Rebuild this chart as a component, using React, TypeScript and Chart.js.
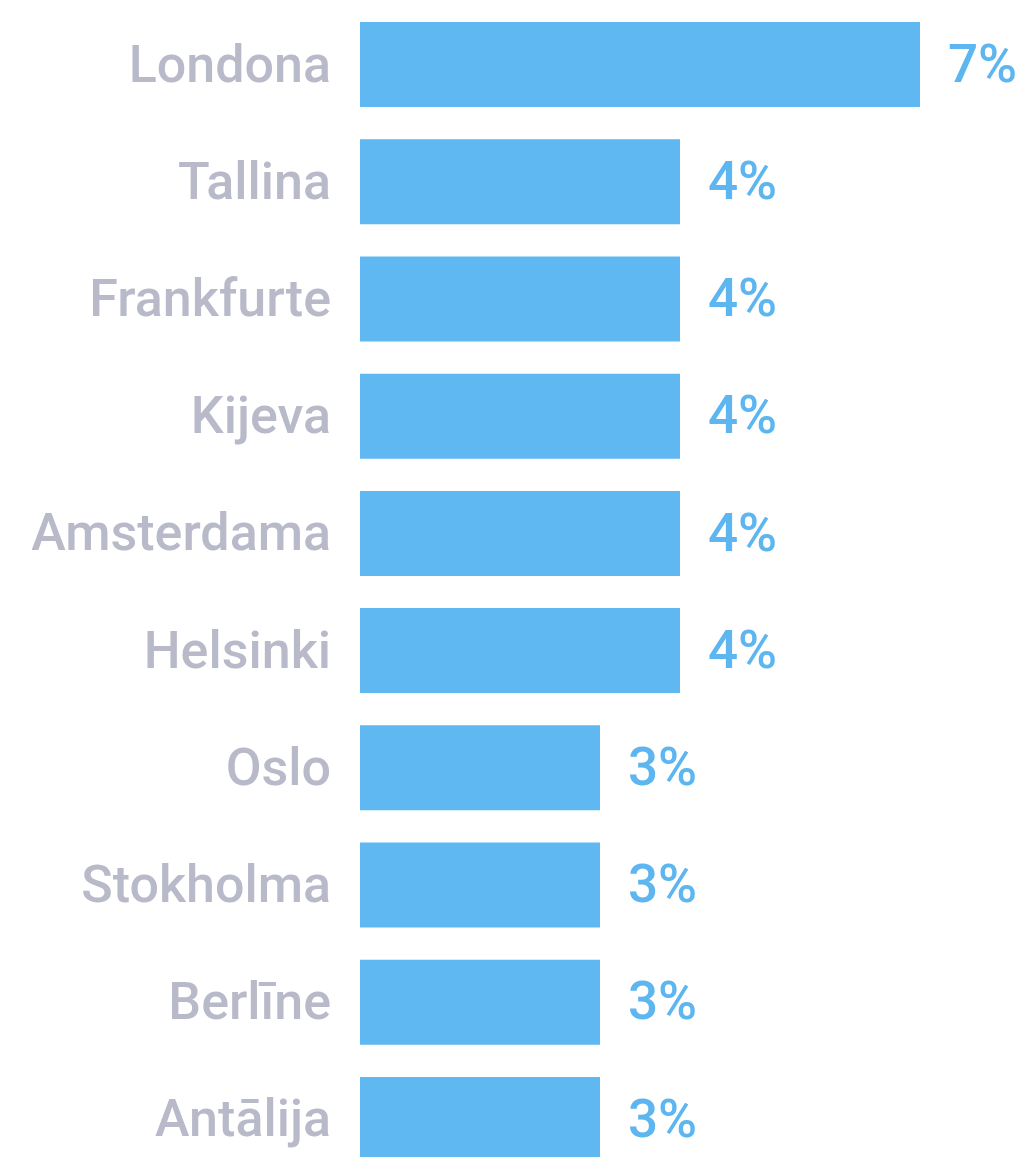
import React, { useEffect, useRef } from "react";
import { Chart, registerables } from "chart.js";

Chart.register(...registerables);

const categories = [
  "Londona",
  "Tallina",
  "Frankfurte",
  "Kijeva",
  "Amsterdama",
  "Helsinki",
  "Oslo",
  "Stokholma",
  "Berlīne",
  "Antālija",
];
const shares = [7, 4, 4, 4, 4, 4, 3, 3, 3, 3];
const valueLabels = ["7%", "4%", "4%", "4%", "4%", "4%", "3%", "3%", "3%", "3%"];

const BAR_COLOR = "#5fb8f2";
const LABEL_COLOR = "#b9bac9";
const VALUE_COLOR = "#5db6ef";

const valueLabelPlugin = {
  id: "valueLabels",
  afterDatasetsDraw(chart: any) {
    const ctx = chart.ctx;
    const meta = chart.getDatasetMeta(0);
    ctx.save();
    ctx.font = "500 53px Roboto";
    ctx.fillStyle = VALUE_COLOR;
    ctx.textAlign = "left";
    ctx.textBaseline = "middle";
    meta.data.forEach((bar: any, i: number) => {
      ctx.fillText(valueLabels[i], bar.x + 28, bar.y + 4);
    });
    ctx.restore();
  },
};

export default function App() {
  const ref = useRef<HTMLCanvasElement | null>(null);
  useEffect(() => {
    if (!ref.current) return;
    const chart = new Chart(ref.current, {
      type: "bar",
      data: {
        labels: categories,
        datasets: [
          {
            data: shares,
            backgroundColor: BAR_COLOR,
            borderWidth: 0,
            categoryPercentage: 1,
            barPercentage: 0.725,
          },
        ],
      },
      options: {
        indexAxis: "y",
        animation: false,
        responsive: false,
        maintainAspectRatio: false,
        layout: { padding: { top: 6, bottom: 6, left: 0, right: 25 } },
        plugins: {
          legend: { display: false },
          tooltip: { enabled: false },
        },
        scales: {
          x: { display: false, min: 0, max: 8 },
          y: {
            grid: { display: false, drawTicks: false },
            border: { display: false },
            ticks: {
              color: LABEL_COLOR,
              font: { family: "Roboto", size: 52, weight: "500" },
              padding: 29,
              labelOffset: 4,
            },
            afterFit(scale: any) {
              scale.width = 360;
              scale.paddingTop = 0;
              scale.paddingBottom = 0;
            },
          },
        },
      },
      plugins: [valueLabelPlugin],
    });
    return () => chart.destroy();
  }, []);
  return (
    <div style={{ position: "absolute", left: 0, top: 0, width: 1025, height: 1184 }}>
      <canvas ref={ref} width={1025} height={1184} style={{ display: "block" }} />
    </div>
  );
}
